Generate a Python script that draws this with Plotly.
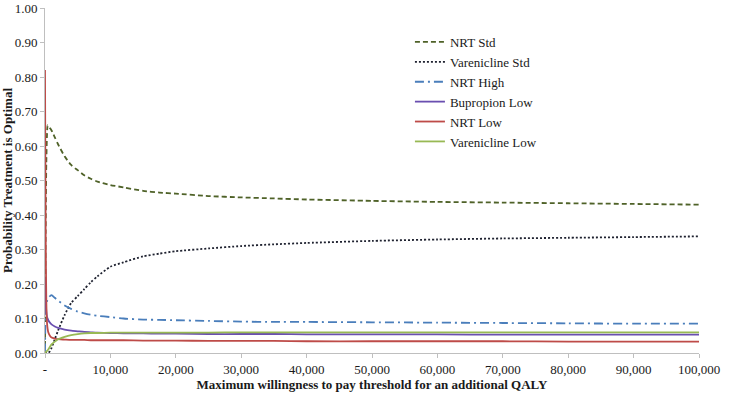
import plotly.graph_objects as go

wtp = [0, 100, 200, 300, 400, 500, 750, 1000, 1500, 2000, 3000, 4000, 5000, 6000, 7000, 8000,
       10000, 12000, 15000, 17500, 20000, 25000, 30000, 35000, 40000, 50000, 60000, 70000,
       80000, 90000, 100000]

nrt_std = [0.02, 0.35, 0.55, 0.63, 0.66, 0.658, 0.652, 0.645, 0.625, 0.605, 0.57, 0.545, 0.53,
           0.515, 0.505, 0.497, 0.487, 0.48, 0.47, 0.465, 0.462, 0.455, 0.451, 0.448, 0.445,
           0.441, 0.438, 0.436, 0.434, 0.432, 0.43]
varen_std = [0.0, 0.0, 0.0, 0.0, 0.0, 0.0, 0.005, 0.015, 0.04, 0.065, 0.11, 0.145, 0.165,
             0.185, 0.205, 0.222, 0.25, 0.263, 0.28, 0.288, 0.295, 0.303, 0.31, 0.315, 0.319,
             0.325, 0.329, 0.332, 0.334, 0.336, 0.338]
nrt_high = [0.0, 0.12, 0.14, 0.15, 0.155, 0.16, 0.165, 0.168, 0.16, 0.152, 0.138, 0.128, 0.12,
            0.115, 0.111, 0.108, 0.104, 0.1, 0.097, 0.096, 0.095, 0.093, 0.091, 0.09, 0.09,
            0.089, 0.088, 0.087, 0.086, 0.085, 0.085]
bupr_low = [0.22, 0.15, 0.12, 0.105, 0.1, 0.095, 0.088, 0.083, 0.077, 0.073, 0.068, 0.065, 0.063,
            0.061, 0.06, 0.059, 0.058, 0.057, 0.057, 0.056, 0.056, 0.055, 0.055, 0.055, 0.054,
            0.054, 0.054, 0.053, 0.053, 0.053, 0.053]
nrt_low = [0.82, 0.35, 0.15, 0.09, 0.07, 0.06, 0.05, 0.045, 0.042, 0.04, 0.039, 0.038, 0.038,
           0.038, 0.037, 0.037, 0.037, 0.037, 0.036, 0.036, 0.036, 0.035, 0.035, 0.035, 0.034,
           0.034, 0.034, 0.034, 0.033, 0.033, 0.033]
varen_low = [0.0, 0.002, 0.004, 0.006, 0.008, 0.01, 0.018, 0.025, 0.033, 0.04, 0.047, 0.052, 0.055,
             0.057, 0.058, 0.058, 0.059, 0.059, 0.059, 0.059, 0.059, 0.059, 0.06, 0.06, 0.06,
             0.06, 0.06, 0.06, 0.06, 0.06, 0.06]

series = [
    ("NRT Std", nrt_std, "#4f6228", "5px,3px"),
    ("Varenicline Std", varen_std, "#1f2230", "2px,2px"),
    ("NRT High", nrt_high, "#4a7ebb", "9px,4px,2px,4px"),
    ("Bupropion Low", bupr_low, "#6a4fb0", "solid"),
    ("NRT Low", nrt_low, "#be4b48", "solid"),
    ("Varenicline Low", varen_low, "#98b954", "solid"),
]

x_ticks = [0, 10000, 20000, 30000, 40000, 50000, 60000, 70000, 80000, 90000, 100000]
x_labels = ["-", "10,000", "20,000", "30,000", "40,000", "50,000", "60,000", "70,000",
            "80,000", "90,000", "100,000"]
y_ticks = [0.0, 0.1, 0.2, 0.3, 0.4, 0.5, 0.6, 0.7, 0.8, 0.9, 1.0]
y_labels = ["%.2f" % v for v in y_ticks]

FONT = "Liberation Serif"

fig = go.Figure()
for name, vals, color, dash in series:
    fig.add_trace(go.Scatter(x=wtp, y=vals, mode="lines", name=name,
                             line=dict(color=color, width=1.8, dash=dash, shape="spline",
                                       smoothing=0.6)))

fig.update_layout(
    width=747, height=397,
    margin=dict(l=45, r=48, t=8, b=44),
    paper_bgcolor="white", plot_bgcolor="white",
    font=dict(family=FONT, size=13, color="#1a1a1a"),
    showlegend=True,
    legend=dict(x=0.558, y=0.945, xanchor="left", yanchor="top", bgcolor="rgba(0,0,0,0)",
                font=dict(family=FONT, size=13, color="#1a1a1a"), tracegroupgap=0,
                itemwidth=30),
    xaxis=dict(range=[0, 100000], tickvals=x_ticks, ticktext=x_labels, showgrid=False,
               zeroline=False, showline=True, linecolor="#bfbfbf", linewidth=1,
               ticks="outside", ticklen=4, tickcolor="#bfbfbf", automargin=False,
               tickfont=dict(family=FONT, size=13),
               title=dict(text="<b>Maximum willingness to pay threshold for an additional QALY</b>",
                          font=dict(family=FONT, size=13), standoff=0)),
    yaxis=dict(range=[0, 1], tickvals=y_ticks, ticktext=y_labels, showgrid=False,
               zeroline=False, showline=True, linecolor="#bfbfbf", linewidth=1,
               ticks="outside", ticklen=4, tickcolor="#bfbfbf", automargin=False,
               tickfont=dict(family=FONT, size=13),
               title=dict(text="<b>Probability Treatment is Optimal</b>",
                          font=dict(family=FONT, size=13), standoff=0)),
)

fig.write_html("out.html", config={"displayModeBar": False},
               post_script="document.body.style.margin='0';document.body.style.overflow='hidden';")
